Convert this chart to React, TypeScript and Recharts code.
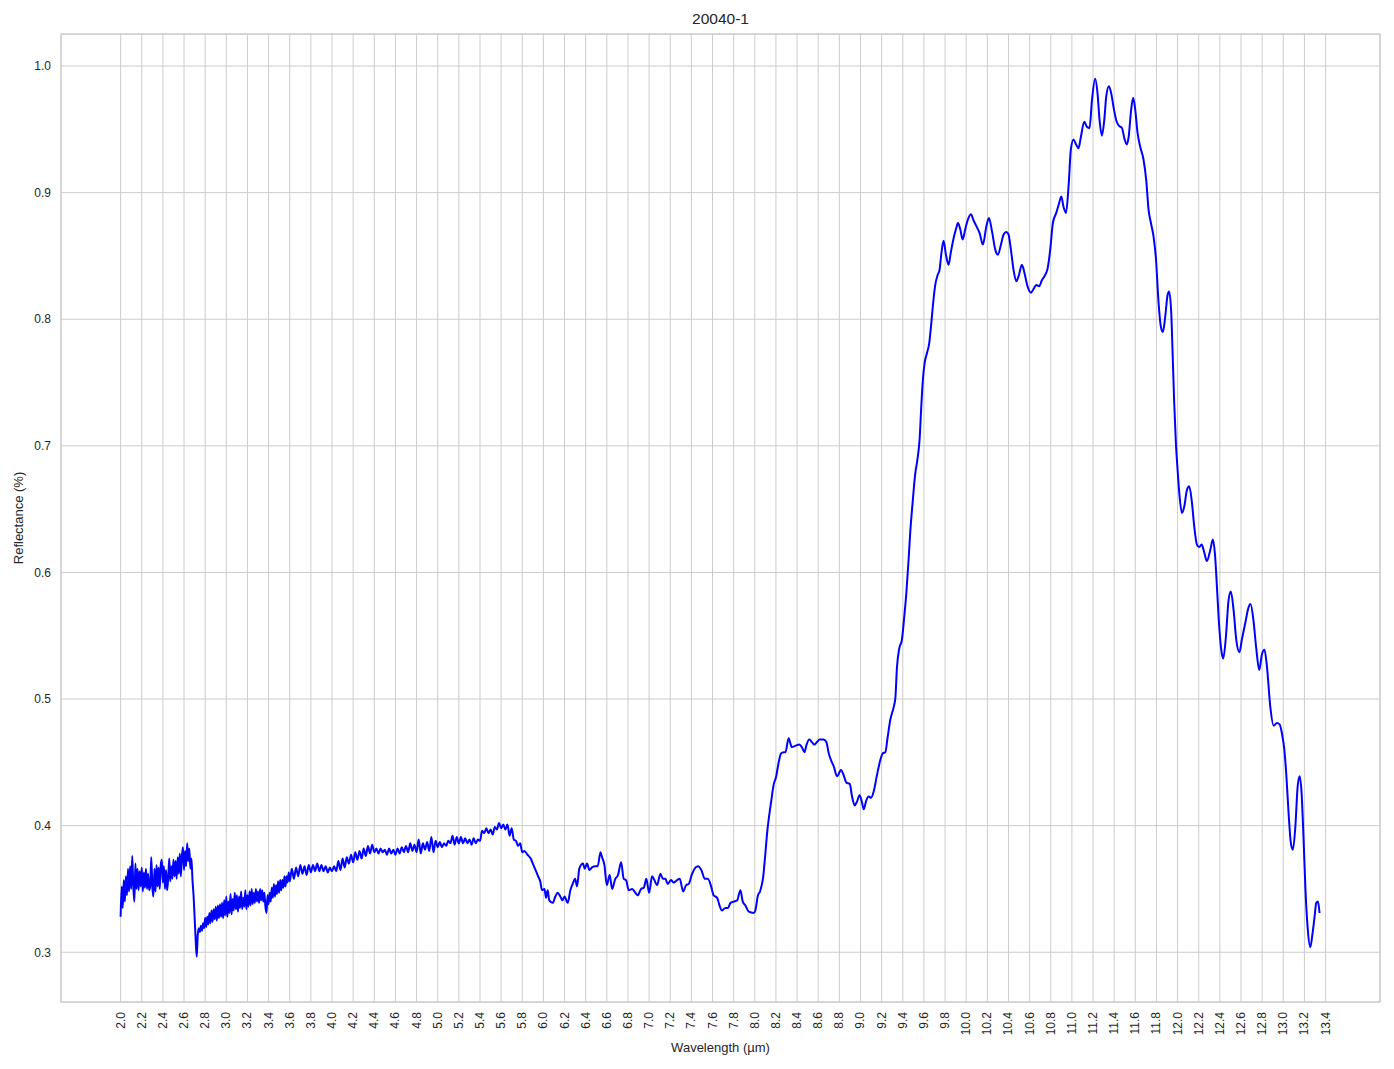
import React from "react"
import { CartesianGrid, Line, LineChart, ReferenceArea, XAxis, YAxis } from "recharts"

// noisy start of the spectrum, one value every 0.01 µm from 2.00
const noisyStart = 2.0
const noisyA = [
  0.328, 0.352, 0.335, 0.357, 0.340, 0.360, 0.345, 0.366, 0.348, 0.368,
  0.350, 0.376, 0.352, 0.340, 0.370, 0.350, 0.366, 0.349, 0.364, 0.352,
  0.367, 0.348, 0.363, 0.351, 0.366, 0.350, 0.362, 0.349, 0.352, 0.375,
  0.352, 0.344, 0.366, 0.348, 0.369, 0.352, 0.367, 0.350, 0.369, 0.373,
  0.355, 0.368, 0.350, 0.365, 0.349, 0.358, 0.374, 0.356, 0.368, 0.358,
  0.373, 0.360, 0.372, 0.358, 0.375, 0.362, 0.378, 0.360, 0.376, 0.383,
  0.365, 0.380, 0.368, 0.386, 0.372, 0.382, 0.366, 0.374,
]

// the sharp drop near 2.7 µm
const dropEdge: [number, number][] = [
  [2.68, 0.357], [2.69, 0.345], [2.70, 0.328], [2.71, 0.310], [2.72, 0.2965],
]

// noisy recovery, every 0.01 µm from 2.73
const noisyBStart = 2.73
const noisyB = [
  0.314, 0.319, 0.316, 0.321, 0.317, 0.323, 0.319, 0.327, 0.320, 0.328,
  0.322, 0.331, 0.323, 0.333, 0.324, 0.334, 0.326, 0.336, 0.325, 0.337,
  0.327, 0.338, 0.328, 0.339, 0.327, 0.341, 0.329, 0.344, 0.328, 0.340,
  0.331, 0.346, 0.330, 0.342, 0.333, 0.347, 0.334, 0.345, 0.332, 0.344,
  0.335, 0.348, 0.334, 0.343, 0.336, 0.349, 0.334, 0.345, 0.336, 0.348,
  0.337, 0.350, 0.338, 0.347, 0.339, 0.350, 0.340, 0.348, 0.339, 0.350,
  0.341, 0.349, 0.340, 0.347, 0.336, 0.331, 0.345, 0.338, 0.347, 0.340,
  0.351, 0.343, 0.354, 0.344, 0.353, 0.346, 0.356, 0.347, 0.357, 0.349,
  0.357, 0.351, 0.360, 0.352, 0.360, 0.355, 0.363, 0.356,
]

// gentler noise, every 0.02 µm from 3.62
const noisyCStart = 3.62
const noisyC = [
  0.366, 0.358, 0.367, 0.360, 0.369, 0.362, 0.368, 0.361, 0.369, 0.363,
  0.369, 0.364, 0.370, 0.364, 0.369, 0.364, 0.368, 0.363, 0.367, 0.364,
  0.368, 0.364, 0.372, 0.365, 0.374, 0.367, 0.375, 0.370, 0.377, 0.371,
  0.379, 0.373, 0.380, 0.374, 0.382, 0.376, 0.384, 0.378, 0.385, 0.379,
  0.382, 0.378, 0.382, 0.379, 0.381, 0.377, 0.382, 0.378, 0.381, 0.377,
  0.382, 0.378, 0.383, 0.379, 0.384, 0.379, 0.386, 0.380, 0.385, 0.379,
  0.389, 0.378, 0.386, 0.381, 0.387, 0.380, 0.391, 0.379, 0.388, 0.383,
  0.387, 0.383, 0.386, 0.384, 0.388, 0.386, 0.392, 0.385, 0.391, 0.386,
  0.391, 0.386, 0.390, 0.386, 0.389, 0.385, 0.390, 0.386, 0.389, 0.388,
  0.396, 0.394, 0.398, 0.394, 0.397, 0.393, 0.399, 0.397, 0.402, 0.398,
  0.401, 0.397, 0.401, 0.392, 0.398, 0.389, 0.388, 0.384, 0.386, 0.379,
]

// 5.8 - 8.1 µm
const midBand: [number, number][] = [
  [5.82, 0.380], [5.85, 0.377], [5.88, 0.374], [5.90, 0.370], [5.92, 0.366],
  [5.95, 0.360], [5.97, 0.356], [5.987, 0.349], [6.01, 0.350], [6.025, 0.343],
  [6.04, 0.349], [6.056, 0.341], [6.088, 0.339], [6.113, 0.344], [6.135, 0.347],
  [6.16, 0.344], [6.18, 0.341], [6.20, 0.344], [6.23, 0.339], [6.255, 0.349],
  [6.277, 0.354], [6.30, 0.358], [6.318, 0.352], [6.34, 0.366], [6.375, 0.370],
  [6.39, 0.366], [6.413, 0.370], [6.435, 0.365], [6.46, 0.367], [6.49, 0.368],
  [6.514, 0.368], [6.54, 0.379], [6.555, 0.375], [6.577, 0.369], [6.60, 0.353],
  [6.627, 0.361], [6.65, 0.350], [6.68, 0.358], [6.706, 0.361], [6.735, 0.371],
  [6.76, 0.358], [6.782, 0.357], [6.807, 0.349], [6.84, 0.350], [6.87, 0.347],
  [6.892, 0.345], [6.924, 0.350], [6.95, 0.351], [6.974, 0.358], [7.00, 0.347],
  [7.028, 0.360], [7.05, 0.357], [7.075, 0.353], [7.107, 0.362], [7.13, 0.358],
  [7.154, 0.358], [7.176, 0.354], [7.208, 0.357], [7.233, 0.355], [7.265, 0.357],
  [7.29, 0.358], [7.322, 0.348], [7.35, 0.353], [7.375, 0.354], [7.407, 0.362],
  [7.44, 0.367], [7.463, 0.368], [7.494, 0.365], [7.527, 0.358], [7.555, 0.358],
  [7.587, 0.352], [7.61, 0.345], [7.644, 0.343], [7.666, 0.337], [7.69, 0.333],
  [7.722, 0.335], [7.747, 0.335], [7.77, 0.339], [7.80, 0.340], [7.833, 0.341],
  [7.864, 0.349], [7.886, 0.340], [7.911, 0.337], [7.943, 0.332], [7.99, 0.331],
  [8.005, 0.333], [8.03, 0.345], [8.05, 0.348], [8.08, 0.360], [8.10, 0.378],
  [8.12, 0.397],
]

// 8.1 - 9.4 µm shoulder
const shoulder: [number, number][] = [
  [8.13, 0.404], [8.153, 0.418], [8.18, 0.433], [8.20, 0.438], [8.226, 0.450],
  [8.248, 0.457], [8.273, 0.458], [8.29, 0.458], [8.32, 0.469], [8.35, 0.462],
  [8.383, 0.463], [8.42, 0.464], [8.445, 0.462], [8.47, 0.458], [8.49, 0.464],
  [8.515, 0.468], [8.54, 0.466], [8.563, 0.464], [8.588, 0.466], [8.613, 0.468],
  [8.65, 0.468], [8.677, 0.466], [8.70, 0.457], [8.72, 0.452], [8.746, 0.447],
  [8.778, 0.439], [8.816, 0.444], [8.84, 0.440], [8.866, 0.434], [8.898, 0.433],
  [8.92, 0.423], [8.945, 0.416], [8.967, 0.419], [8.992, 0.424], [9.015, 0.418],
  [9.03, 0.413], [9.055, 0.420], [9.077, 0.423], [9.10, 0.422], [9.125, 0.427],
  [9.156, 0.440], [9.188, 0.452], [9.21, 0.457], [9.235, 0.458], [9.257, 0.470],
  [9.283, 0.484], [9.315, 0.494], [9.33, 0.501],
]

// 9.3 - 11.8 µm main band
const mainBand: [number, number][] = [
  [9.345, 0.525], [9.367, 0.540], [9.392, 0.547], [9.414, 0.565], [9.433, 0.583],
  [9.455, 0.610], [9.47, 0.631], [9.493, 0.655], [9.518, 0.678], [9.54, 0.690],
  [9.559, 0.705], [9.575, 0.731], [9.59, 0.752], [9.606, 0.765], [9.628, 0.773],
  [9.65, 0.781], [9.67, 0.797], [9.69, 0.815], [9.707, 0.827], [9.73, 0.835],
  [9.748, 0.839], [9.764, 0.851], [9.786, 0.862], [9.808, 0.851], [9.833, 0.843],
  [9.855, 0.853], [9.881, 0.864], [9.906, 0.872], [9.922, 0.876], [9.944, 0.871],
  [9.966, 0.863], [9.991, 0.871], [10.013, 0.878], [10.045, 0.883], [10.07, 0.878],
  [10.10, 0.873], [10.127, 0.868], [10.158, 0.859], [10.19, 0.873], [10.215, 0.880],
  [10.243, 0.870], [10.275, 0.855], [10.30, 0.851], [10.329, 0.859], [10.354, 0.867],
  [10.38, 0.869], [10.40, 0.867], [10.423, 0.855], [10.448, 0.839], [10.474, 0.830],
  [10.496, 0.834], [10.527, 0.843], [10.553, 0.836], [10.58, 0.826], [10.613, 0.821],
  [10.638, 0.824], [10.663, 0.827], [10.69, 0.826], [10.717, 0.831], [10.748, 0.835],
  [10.77, 0.840], [10.795, 0.855], [10.82, 0.876], [10.852, 0.884], [10.877, 0.891],
  [10.90, 0.897], [10.92, 0.889], [10.944, 0.884], [10.97, 0.907], [10.99, 0.934],
  [11.016, 0.942], [11.04, 0.938], [11.063, 0.935], [11.085, 0.944], [11.117, 0.956],
  [11.142, 0.952], [11.167, 0.951], [11.19, 0.973], [11.22, 0.990], [11.243, 0.978],
  [11.262, 0.957], [11.284, 0.945], [11.306, 0.957], [11.325, 0.976], [11.35, 0.984],
  [11.373, 0.978], [11.395, 0.967], [11.42, 0.957], [11.443, 0.953], [11.474, 0.951],
  [11.496, 0.943], [11.52, 0.938], [11.537, 0.944], [11.56, 0.965], [11.58, 0.975],
  [11.60, 0.965], [11.62, 0.948], [11.647, 0.936], [11.678, 0.926], [11.703, 0.910],
  [11.726, 0.886], [11.748, 0.876], [11.773, 0.865], [11.796, 0.847],
]

// 11.8 - 13.35 µm fall-off
const fallOff: [number, number][] = [
  [11.82, 0.813], [11.842, 0.794], [11.861, 0.790], [11.883, 0.802], [11.905, 0.819],
  [11.92, 0.822], [11.94, 0.805], [11.953, 0.773], [11.968, 0.734], [11.984, 0.702],
  [12.00, 0.681], [12.019, 0.660], [12.041, 0.647], [12.063, 0.652], [12.088, 0.665],
  [12.11, 0.668], [12.136, 0.655], [12.158, 0.636], [12.183, 0.622], [12.205, 0.620],
  [12.227, 0.622], [12.252, 0.616], [12.277, 0.609], [12.31, 0.618], [12.334, 0.626],
  [12.353, 0.615], [12.372, 0.589], [12.39, 0.562], [12.413, 0.539], [12.432, 0.532],
  [12.457, 0.549], [12.482, 0.578], [12.504, 0.585], [12.53, 0.570], [12.555, 0.547],
  [12.585, 0.537], [12.608, 0.547], [12.64, 0.560], [12.67, 0.572], [12.69, 0.575],
  [12.718, 0.562], [12.743, 0.541], [12.773, 0.523], [12.797, 0.535], [12.822, 0.539],
  [12.845, 0.526], [12.877, 0.494], [12.908, 0.479], [12.94, 0.481], [12.965, 0.480],
  [12.987, 0.473], [13.01, 0.460], [13.028, 0.441], [13.05, 0.410], [13.072, 0.386],
  [13.091, 0.381], [13.114, 0.399], [13.136, 0.431], [13.155, 0.439], [13.173, 0.426],
  [13.192, 0.389], [13.21, 0.349], [13.23, 0.320], [13.255, 0.304], [13.277, 0.315],
  [13.296, 0.328], [13.312, 0.339], [13.328, 0.340], [13.343, 0.331],
]

const xTicks = [
  2.0, 2.2, 2.4, 2.6, 2.8, 3.0, 3.2, 3.4, 3.6, 3.8, 4.0, 4.2, 4.4, 4.6, 4.8,
  5.0, 5.2, 5.4, 5.6, 5.8, 6.0, 6.2, 6.4, 6.6, 6.8, 7.0, 7.2, 7.4, 7.6, 7.8,
  8.0, 8.2, 8.4, 8.6, 8.8, 9.0, 9.2, 9.4, 9.6, 9.8, 10.0, 10.2, 10.4, 10.6,
  10.8, 11.0, 11.2, 11.4, 11.6, 11.8, 12.0, 12.2, 12.4, 12.6, 12.8, 13.0,
  13.2, 13.4,
]
const yTicks = [0.3, 0.4, 0.5, 0.6, 0.7, 0.8, 0.9, 1.0]

const X_MIN = 1.436
const X_MAX = 13.915
const Y_MIN = 0.2607
const Y_MAX = 1.0253

const FONT = '"Liberation Sans", Arial, sans-serif'
const TEXT = "#262626"
const GRID = "#cccccc"

function fromGrid(start: number, step: number, values: number[]) {
  return values.map((r, i) => ({ wl: Math.round((start + i * step) * 10000) / 10000, r }))
}
const fromPairs = (pairs: [number, number][]) => pairs.map(([wl, r]) => ({ wl, r }))

const data = [
  ...fromGrid(noisyStart, 0.01, noisyA),
  ...fromPairs(dropEdge),
  ...fromGrid(noisyBStart, 0.01, noisyB),
  ...fromGrid(noisyCStart, 0.02, noisyC),
  ...fromPairs(midBand),
  ...fromPairs(shoulder),
  ...fromPairs(mainBand),
  ...fromPairs(fallOff),
]

function XTick({ x, y, payload }: any) {
  return (
    <text
      x={x}
      y={y + 10}
      transform={`rotate(-90, ${x}, ${y + 10})`}
      textAnchor="end"
      dominantBaseline="central"
      fontSize={12}
      fontFamily={FONT}
      fill={TEXT}
    >
      {Number(payload.value).toFixed(1)}
    </text>
  )
}

export default function App() {
  return (
    <div style={{ position: "absolute", left: 0, top: 0, width: 1394, height: 1069, background: "#fff", fontFamily: FONT }}>
      <div style={{ position: "absolute", top: 10, left: 61, width: 1319, textAlign: "center", fontSize: 15.5, color: TEXT }}>
        20040-1
      </div>
      <div style={{ position: "absolute", top: 1040, left: 61, width: 1319, textAlign: "center", fontSize: 13, color: TEXT }}>
        Wavelength (µm)
      </div>
      <div
        style={{
          position: "absolute",
          left: 18,
          top: 518,
          transform: "translate(-50%, -50%) rotate(-90deg)",
          fontSize: 13,
          color: TEXT,
          whiteSpace: "nowrap",
        }}
      >
        Reflectance (%)
      </div>
      <LineChart width={1394} height={1069} data={data} margin={{ top: 34, right: 14, bottom: 0, left: 0 }}>
        <CartesianGrid stroke={GRID} strokeWidth={1} />
        <XAxis
          dataKey="wl"
          type="number"
          domain={[X_MIN, X_MAX]}
          ticks={xTicks}
          allowDataOverflow
          height={67}
          tickLine={false}
          axisLine={false}
          tickSize={0}
          tickMargin={0}
          interval={0}
          tick={<XTick />}
        />
        <YAxis
          type="number"
          domain={[Y_MIN, Y_MAX]}
          ticks={yTicks}
          allowDataOverflow
          width={61}
          tickLine={false}
          axisLine={false}
          tickSize={0}
          tickMargin={10}
          tickFormatter={(v: number) => v.toFixed(1)}
          tick={{ fontSize: 12, fontFamily: FONT, fill: TEXT }}
        />
        <ReferenceArea x1={X_MIN} x2={X_MAX} y1={Y_MIN} y2={Y_MAX} fill="none" stroke={GRID} strokeWidth={1.25} ifOverflow="visible" />
        <Line
          dataKey="r"
          type="monotone"
          stroke="#0000ff"
          strokeWidth={2}
          dot={false}
          activeDot={false}
          isAnimationActive={false}
        />
      </LineChart>
    </div>
  )
}
